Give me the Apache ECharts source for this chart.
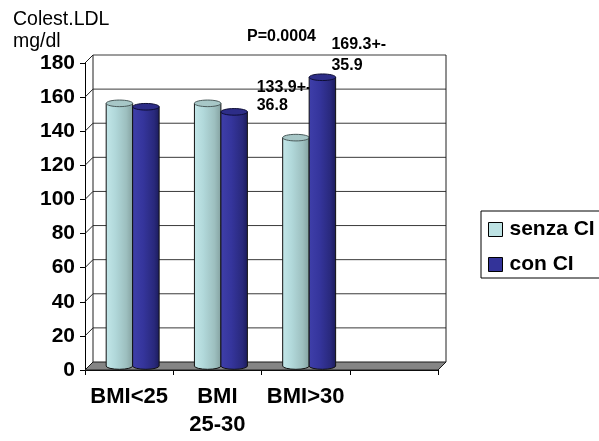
<!DOCTYPE html>
<html>
<head>
<meta charset="utf-8">
<title>Colest.LDL per BMI</title>
<script src="https://cdn.jsdelivr.net/npm/echarts@6/dist/echarts.min.js"></script>
<style>
  html, body { margin: 0; padding: 0; background: #ffffff; }
  #chart { width: 599px; height: 441px; }
</style>
</head>
<body>
<div id="chart"></div>
<script>
// BMI groups (the fourth slot is left empty, as in the original layout)
const categories = ['BMI<25', 'BMI\n25-30', 'BMI>30', ''];
// Mean LDL cholesterol (mg/dl)
const senzaCI = [154, 154, 133.9];
const conCI = [152, 149, 169.3];
// Standard deviations printed next to the BMI>30 bars
const senzaSD = [null, null, 36.8];
const conSD = [null, null, 35.9];
const seriesNames = ['senza CI', 'con CI'];
const yTicks = [0, 20, 40, 60, 80, 100, 120, 140, 160, 180];
const pValue = 'P=0.0004';

const FONT = "'Liberation Sans', Arial, sans-serif";
const DX = 8, DY = 8;          // depth of the pseudo-3D box
const RY = 3.3;                // half height of the cylinder ellipses

const palette = [
  { legend: '#bde2e3',
    body: [['#c3e7e9', 0], ['#b1d8da', 0.35], ['#9dbfbf', 0.75], ['#84a1a0', 1]],
    top: '#a7c7c7', topStroke: '#4b5b5b' },
  { legend: '#333399',
    body: [['#3f3faa', 0], ['#35359c', 0.4], ['#29297c', 0.8], ['#1b1b5a', 1]],
    top: '#2d2d88', topStroke: '#0e0e36' }
];

function gradient(stops) {
  return new echarts.graphic.LinearGradient(0, 0, 1, 0,
    stops.map(s => ({ offset: s[1], color: s[0] })));
}

// back wall, gridlines, floor and the short depth connectors
function renderFrame(params, api) {
  const cs = params.coordSys;
  const x0 = cs.x, x1 = cs.x + cs.width;
  const yBase = cs.y + cs.height;
  const yTop = api.coord([0, yTicks[yTicks.length - 1]])[1];
  const children = [];
  children.push({
    type: 'rect',
    shape: { x: x0 + DX, y: yTop - DY, width: x1 - x0, height: yBase - yTop },
    style: { fill: '#ffffff' }
  });
  yTicks.forEach(t => {
    const y = api.coord([0, t])[1];
    if (t > 0) {
      children.push({
        type: 'line',
        shape: { x1: x0 + DX, y1: y - DY, x2: x1 + DX, y2: y - DY },
        style: { stroke: '#3a3a3a', lineWidth: 1 }
      });
    }
    children.push({
      type: 'line',
      shape: { x1: x0, y1: y, x2: x0 + DX, y2: y - DY },
      style: { stroke: '#202020', lineWidth: 1 }
    });
  });
  children.push({
    type: 'line',
    shape: { x1: x0 + DX, y1: yTop - DY, x2: x0 + DX, y2: yBase - DY },
    style: { stroke: '#202020', lineWidth: 1 }
  });
  children.push({
    type: 'line',
    shape: { x1: x1 + DX, y1: yTop - DY, x2: x1 + DX, y2: yBase - DY },
    style: { stroke: '#202020', lineWidth: 1 }
  });
  children.push({
    type: 'polygon',
    shape: { points: [[x0, yBase], [x1, yBase], [x1 + DX, yBase - DY], [x0 + DX, yBase - DY]] },
    style: { fill: '#858585', stroke: '#1a1a1a', lineWidth: 1 }
  });
  return { type: 'group', children: children };
}

// one cylinder per data item; side 0 sits left of the band centre, side 1 right
function makeCylinder(side, sdList, labelStyle) {
  return function (params, api) {
    const i = api.value(0);
    const v = api.value(1);
    const band = api.size([1, 0])[0];
    const base = api.coord([i, 0]);
    const topPt = api.coord([i, v]);
    const w = band * 0.3;
    const off = band * 0.04;
    const left = side === 0 ? base[0] + off - w : base[0] + off;
    const right = left + w;
    const cx = (left + right) / 2;
    const rx = w / 2;
    const yT = topPt[1] - DY / 2;
    const yB = base[1] - DY / 2;
    const pal = palette[side];
    const children = [
      {
        type: 'path',
        shape: {
          pathData: 'M' + left + ',' + yT + ' L' + left + ',' + yB +
            ' A' + rx + ',' + RY + ' 0 0 0 ' + right + ',' + yB +
            ' L' + right + ',' + yT + ' Z'
        },
        style: { fill: gradient(pal.body), stroke: '#111111', lineWidth: 1 }
      },
      {
        type: 'ellipse',
        shape: { cx: cx, cy: yT, rx: rx, ry: RY },
        style: { fill: pal.top, stroke: pal.topStroke, lineWidth: 1 }
      }
    ];
    const sd = sdList[i];
    if (sd != null) {
      children.push({
        type: 'text',
        x: side === 0 ? left + labelStyle.dx : cx + labelStyle.dx,
        y: yT + labelStyle.dy,
        style: {
          text: v.toFixed(1) + '+-\n' + sd.toFixed(1),
          font: 'bold 16px ' + FONT,
          fill: '#000000',
          lineHeight: labelStyle.lineHeight,
          align: 'left',
          verticalAlign: 'top'
        }
      });
    }
    return { type: 'group', children: children };
  };
}

const chart = echarts.init(document.getElementById('chart'), null, { renderer: 'canvas' });

chart.setOption({
  animation: false,
  backgroundColor: '#ffffff',
  title: {
    text: 'Colest.LDL\nmg/dl',
    left: 13, top: 9, padding: 0,
    textStyle: { fontFamily: FONT, fontSize: 19.5, fontWeight: 'normal', color: '#000000', lineHeight: 22 }
  },
  graphic: [{
    type: 'text', left: 247, top: 29,
    style: { text: pValue, font: 'bold 16px ' + FONT, fill: '#000000' }
  }],
  legend: {
    orient: 'vertical',
    left: 481, top: 211,
    padding: [8, 80, 3, 7],
    itemWidth: 14, itemHeight: 14, itemGap: 14,
    borderColor: '#000000', borderWidth: 1, borderRadius: 0,
    icon: 'rect',
    itemStyle: { borderColor: '#000000', borderWidth: 1 },
    textStyle: { fontFamily: FONT, fontSize: 21, fontWeight: 'bold', color: '#000000', padding: [0, 0, 0, 2] },
    data: seriesNames
  },
  grid: { left: 85, right: 161, top: 63, bottom: 71 },
  xAxis: {
    type: 'category',
    data: categories,
    boundaryGap: true,
    axisLine: { show: true, lineStyle: { color: '#000000', width: 1 } },
    axisTick: { show: true, length: 5, lineStyle: { color: '#000000' } },
    axisLabel: {
      interval: 0, margin: 13,
      fontFamily: FONT, fontSize: 22, fontWeight: 'bold', color: '#000000', lineHeight: 28
    },
    splitLine: { show: false }
  },
  yAxis: {
    type: 'value',
    min: 0, max: 180, interval: 20,
    axisLine: { show: true, lineStyle: { color: '#000000', width: 1 } },
    axisTick: { show: true, length: 5, lineStyle: { color: '#000000' } },
    axisLabel: { margin: 10, fontFamily: FONT, fontSize: 21, fontWeight: 'bold', color: '#000000' },
    splitLine: { show: false }
  },
  series: [
    {
      type: 'custom', name: 'frame', silent: true, z: 1,
      renderItem: renderFrame,
      data: [[0, 0]]
    },
    {
      type: 'custom', name: seriesNames[0], z: 3,
      itemStyle: { color: palette[0].legend },
      renderItem: makeCylinder(0, senzaSD, { dx: -26, dy: -59, lineHeight: 18 }),
      encode: { x: 0, y: 1 },
      data: senzaCI.map((v, i) => [i, v])
    },
    {
      type: 'custom', name: seriesNames[1], z: 3,
      itemStyle: { color: palette[1].legend },
      renderItem: makeCylinder(1, conSD, { dx: 9, dy: -43, lineHeight: 21 }),
      encode: { x: 0, y: 1 },
      data: conCI.map((v, i) => [i, v])
    }
  ]
});
</script>
</body>
</html>
